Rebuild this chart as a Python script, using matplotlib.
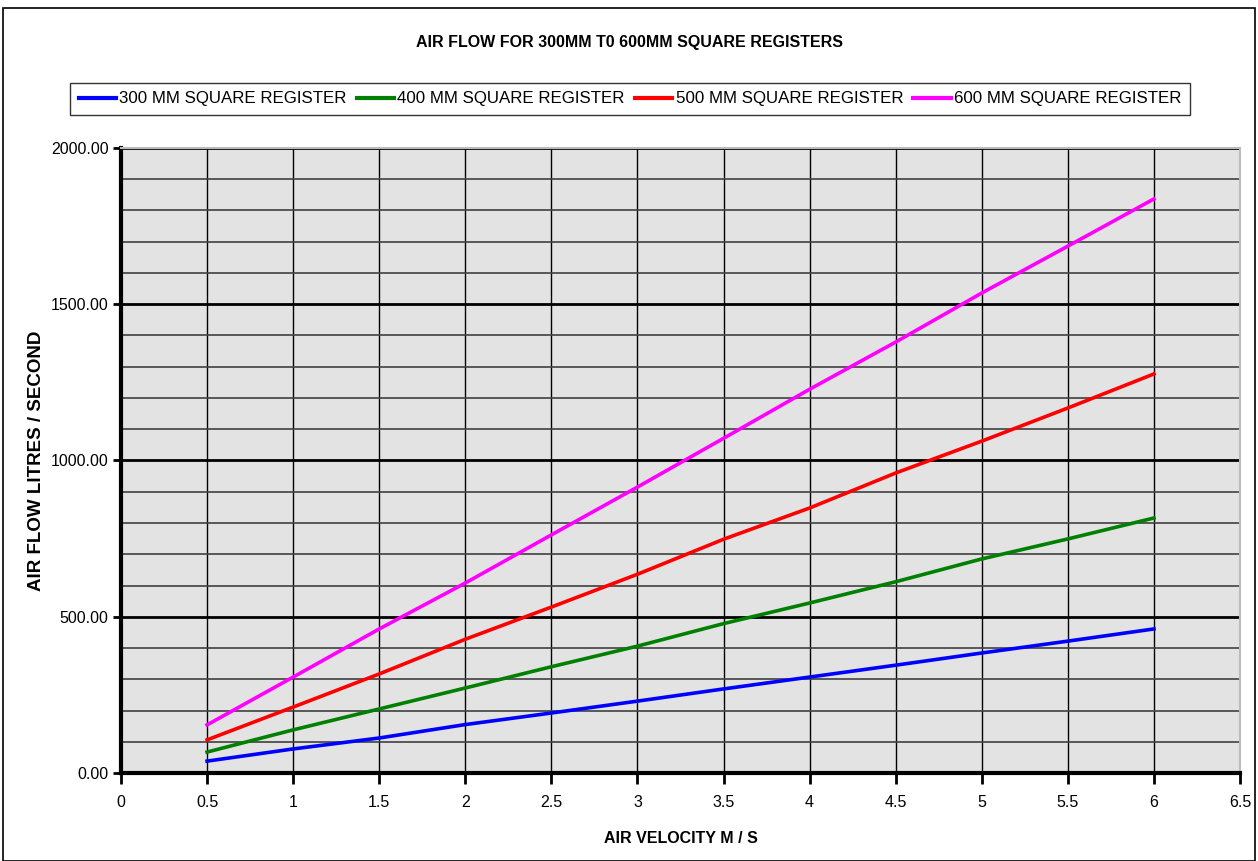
import matplotlib
matplotlib.use("Agg")
import matplotlib.pyplot as plt
from matplotlib import font_manager
from matplotlib.patches import Rectangle
from matplotlib.ticker import MultipleLocator, FormatStrFormatter

names = {f.name for f in font_manager.fontManager.ttflist}
FONT = "Liberation Sans Narrow" if "Liberation Sans Narrow" in names else "Liberation Sans"
plt.rcParams['font.family'] = [FONT, 'DejaVu Sans']

velocity = [0.5, 1.0, 1.5, 2.0, 2.5, 3.0, 3.5, 4.0, 4.5, 5.0, 5.5, 6.0]
reg_300 = [38, 77, 112, 155, 192, 230, 269, 307, 345, 384, 422, 461]
reg_400 = [67, 138, 205, 272, 340, 406, 478, 544, 612, 685, 749, 816]
reg_500 = [106, 211, 317, 428, 531, 636, 748, 848, 960, 1062, 1168, 1277]
reg_600 = [154, 307, 461, 608, 762, 915, 1071, 1228, 1379, 1536, 1686, 1837]
labels = ["300 MM SQUARE REGISTER", "400 MM SQUARE REGISTER",
          "500 MM SQUARE REGISTER", "600 MM SQUARE REGISTER"]
colors = ["#0000FF", "#008000", "#FF0000", "#FF00FF"]

fig = plt.figure(figsize=(12.58, 8.61), dpi=100)
fig.patches.append(Rectangle((0.002, 0.0), 0.996, 0.991, transform=fig.transFigure,
                             fill=False, edgecolor="black", linewidth=1.2))

ax = fig.add_axes([121/1258, 1-773/861, (1240-121)/1258, (773-148)/861])
ax.set_facecolor("#E3E3E3")

for ys, c, lab in zip([reg_300, reg_400, reg_500, reg_600], colors, labels):
    ax.plot(velocity, ys, color=c, linewidth=2.6, label=lab, zorder=3)

ax.set_xlim(0, 6.5)
ax.set_ylim(0, 2000)
ax.xaxis.set_major_locator(MultipleLocator(0.5))
ax.yaxis.set_major_locator(MultipleLocator(500))
ax.yaxis.set_minor_locator(MultipleLocator(100))
ax.xaxis.set_major_formatter(matplotlib.ticker.FuncFormatter(lambda v, p: f"{v:g}"))
ax.yaxis.set_major_formatter(FormatStrFormatter("%.2f"))

ax.grid(True, which="major", axis="y", color="black", linewidth=2.0, zorder=1)
ax.grid(True, which="minor", axis="y", color="#404040", linewidth=1.2, zorder=1)
ax.grid(True, which="major", axis="x", color="black", linewidth=1.0, zorder=1)
ax.set_axisbelow(True)

for s in ["top", "right"]:
    ax.spines[s].set_color("#BBBBBB")
    ax.spines[s].set_linewidth(1.5)
for s in ["left", "bottom"]:
    ax.spines[s].set_color("black")
    ax.spines[s].set_linewidth(3)

ax.tick_params(axis="x", which="major", direction="out", length=8, width=2, pad=8,
               labelsize=11.5)
ax.tick_params(axis="y", which="major", direction="out", length=6, width=2, pad=3,
               labelsize=11.5)
ax.tick_params(axis="y", which="minor", length=0)

ax.set_xlabel("AIR VELOCITY M / S", fontsize=11.5, fontweight="bold", labelpad=15)
ax.set_ylabel("AIR FLOW LITRES / SECOND", fontsize=13.5, fontweight="bold", labelpad=4)

fig.text(0.5, 1-43/861, "AIR FLOW FOR 300MM T0 600MM SQUARE REGISTERS",
         ha="center", va="center", fontsize=11.5, fontweight="bold")

leg = fig.legend(loc="center", bbox_to_anchor=(630/1258, 1-99/861), ncol=4,
                 fontsize=12.2, frameon=True, fancybox=False, edgecolor="black",
                 handlelength=2.2, handletextpad=0.2, columnspacing=0.6,
                 borderpad=0.5)
leg.get_frame().set_linewidth(1.0)
for l in leg.get_lines():
    l.set_linewidth(3)

fig.savefig("out.png", dpi=100)
